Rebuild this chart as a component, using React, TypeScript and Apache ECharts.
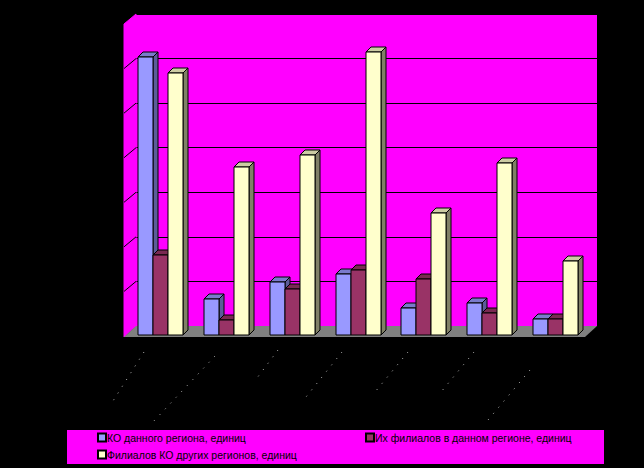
import React, { useEffect, useRef } from "react";
import * as echarts from "echarts";

const categories = ["1", "2", "3", "4", "5", "6", "7"];
const ticks = [0, 100, 200, 300, 400, 500, 600];
const seriesNames = [
  "КО данного региона, единиц",
  "Их филиалов в данном регионе, единиц",
  "Филиалов КО других регионов, единиц",
];
const koValues = [624, 80, 118, 136, 60, 72, 36];
const branchValues = [179, 34, 103, 145, 125, 49, 36];
const otherValues = [588, 376, 403, 635, 273, 385, 166];
const faces = [
  ["#9999FF", "#7A7ACC", "#5C5C99"],
  ["#993366", "#7A2952", "#5C1F3D"],
  ["#FFFFCC", "#CCCCA3", "#808066"],
];
// The category names are illegible in the picture: only these pale dotted traces show.
const labelTraces = [
  [144, 352, 113, 401],
  [215, 356, 152, 423],
  [278, 350, 257, 378],
  [342, 352, 306, 397],
  [408, 352, 375, 392],
  [474, 352, 441, 392],
  [530, 370, 488, 420],
];

const FLOOR_DX = -12;
const FLOOR_DY = 11;
const BAR_DX = -8.5;
const BAR_DY = 9;
const DEPTH = 5;
const BAR_W = 15;

const barItem = (seriesIndex: number) => (_p: any, api: any) => {
  const cat = api.value(0);
  const val = api.value(1);
  const c = api.coord([cat, val]);
  const b = api.coord([cat, 0]);
  const x = c[0] + BAR_DX + (seriesIndex - 1.5) * BAR_W;
  const y = Math.round(c[1] + BAR_DY);
  const y0 = Math.round(b[1] + BAR_DY);
  const x0 = Math.round(x);
  const x1 = x0 + BAR_W;
  const [front, top, side] = faces[seriesIndex];
  const line = { stroke: "#000", lineWidth: 1 };
  return {
    type: "group",
    children: [
      {
        type: "polygon",
        shape: { points: [[x1, y], [x1 + DEPTH, y - DEPTH], [x1 + DEPTH, y0 - DEPTH], [x1, y0]] },
        style: { fill: side, ...line },
      },
      {
        type: "polygon",
        shape: { points: [[x0, y], [x0 + DEPTH, y - DEPTH], [x1 + DEPTH, y - DEPTH], [x1, y]] },
        style: { fill: top, ...line },
      },
      {
        type: "rect",
        shape: { x: x0, y, width: BAR_W, height: y0 - y },
        style: { fill: front, ...line },
      },
    ],
  };
};

const wallItem = (_p: any, api: any) => {
  const v = api.value(0);
  const maxV = 700;
  const axisMin = api.coord([0, 0]);
  const left = axisMin[0] - api.size([1, 0])[0] / 2;
  const p = api.coord([0, v]);
  const children: any[] = [];
  if (v === 0) {
    const top = api.coord([0, maxV]);
    const right = left + api.size([1, 0])[0] * categories.length;
    children.push({
      type: "polygon",
      shape: {
        points: [
          [left, top[1]],
          [left + FLOOR_DX, top[1] + 10],
          [left + FLOOR_DX, axisMin[1] + FLOOR_DY],
          [left, axisMin[1]],
        ],
      },
      style: { fill: "#FF00FF", stroke: "#FF00FF", lineWidth: 1 },
    });
    children.push({
      type: "polygon",
      shape: {
        points: [
          [left, axisMin[1]],
          [right, axisMin[1]],
          [right + FLOOR_DX, axisMin[1] + FLOOR_DY],
          [left + FLOOR_DX, axisMin[1] + FLOOR_DY],
        ],
      },
      style: { fill: "#808080" },
    });
  } else {
    children.push({
      type: "line",
      shape: { x1: left, y1: p[1], x2: left + FLOOR_DX, y2: p[1] + 10 },
      style: { stroke: "#000", lineWidth: 1 },
    });
  }
  return { type: "group", children };
};

const legendFont = { color: "#000", fontFamily: "Liberation Sans", fontSize: 10.5 };

export default function App() {
  const ref = useRef<HTMLDivElement>(null);
  useEffect(() => {
    document.body.style.margin = "0";
    document.body.style.background = "#000";
    const chart = echarts.init(ref.current!, undefined, { renderer: "svg" });
    const bars = [koValues, branchValues, otherValues];
    const legendPos = [
      { left: 97, top: 432 },
      { left: 365, top: 432 },
      { left: 97, top: 449 },
    ];
    chart.setOption({
      animation: false,
      backgroundColor: "#000",
      grid: {
        left: 136,
        right: 47,
        top: 14,
        bottom: 142,
        show: true,
        backgroundColor: "#FF00FF",
        borderWidth: 0,
      },
      xAxis: {
        type: "category",
        data: categories,
        axisLabel: { show: false },
        axisTick: { show: false },
        axisLine: { show: false },
      },
      yAxis: {
        type: "value",
        min: 0,
        max: 700,
        interval: 100,
        axisLabel: { show: false },
        axisTick: { show: false },
        axisLine: { show: false },
        splitLine: { show: true, lineStyle: { color: "#000", width: 1 } },
      },
      legend: seriesNames.map((name, i) => ({
        data: [name],
        ...legendPos[i],
        orient: "horizontal",
        padding: 0,
        itemWidth: 8,
        itemHeight: 8,
        itemGap: 2,
        icon: "rect",
        textStyle: { ...legendFont, padding: [0, 0, 0, -4] },
        selectedMode: false,
      })),
      graphic: [
        {
          type: "rect",
          z: 0,
          shape: { x: 67, y: 430, width: 537, height: 34 },
          style: { fill: "#FF00FF" },
        },
        ...labelTraces.map(([x1, y1, x2, y2]) => ({
          type: "line",
          z: 0,
          shape: { x1, y1, x2, y2 },
          style: { stroke: "#BBBBBB", lineWidth: 1, lineDash: [1, 7] },
        })),
      ],
      series: [
        {
          type: "custom",
          name: "walls",
          coordinateSystem: "cartesian2d",
          renderItem: wallItem,
          data: ticks.map((t) => [t]),
          encode: { y: 0 },
          z: 1,
          silent: true,
        },
        ...seriesNames.map((name, i) => ({
          type: "custom",
          name,
          coordinateSystem: "cartesian2d",
          renderItem: barItem(i),
          data: bars[i].map((v, c) => [c, v]),
          encode: { x: 0, y: 1 },
          itemStyle: { color: faces[i][0], borderColor: "#000", borderWidth: 1 },
          z: 2 + i,
        })),
      ],
    });
    return () => chart.dispose();
  }, []);
  return <div ref={ref} style={{ width: 644, height: 468, position: "absolute", left: 0, top: 0 }} />;
}
